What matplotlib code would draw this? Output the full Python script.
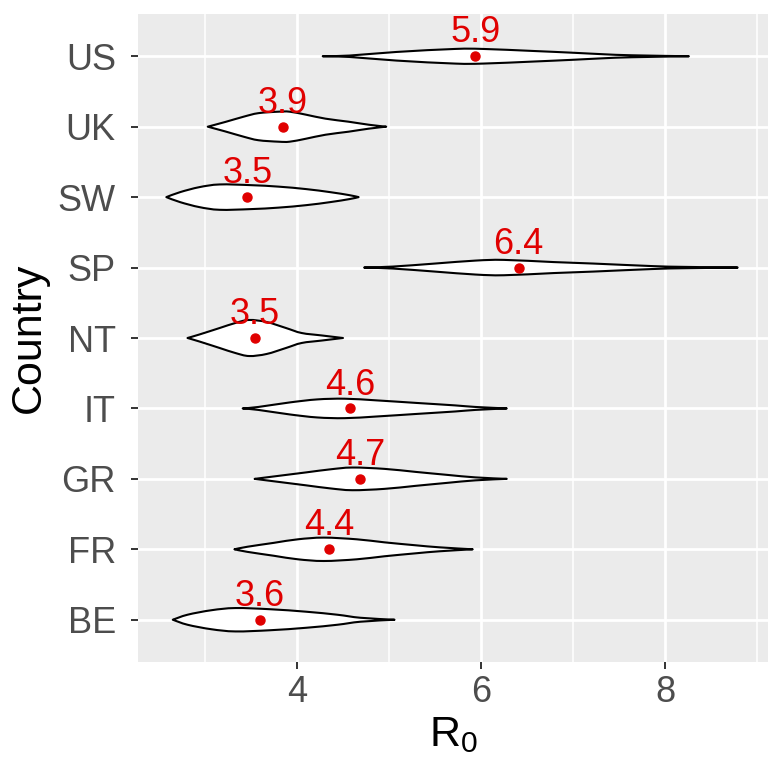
import matplotlib
matplotlib.use("Agg")
import matplotlib.pyplot as plt
import numpy as np
from matplotlib.path import Path
from matplotlib.patches import PathPatch

plt.rcParams["font.family"] = ["Liberation Sans", "DejaVu Sans"]
plt.rcParams["mathtext.default"] = "regular"

# countries, bottom to top
countries = ["BE", "FR", "GR", "IT", "NT", "SP", "SW", "UK", "US"]

# violin outlines: R0 positions and half widths (category units)
profile_x = {
    "US": [4.28, 4.57, 5.08, 5.72, 6.02, 6.57, 7.00, 7.34, 7.64, 8.26],
    "UK": [3.03, 3.22, 3.42, 3.58, 3.80, 3.92, 4.10, 4.31, 4.56, 4.78, 4.97],
    "SW": [2.58, 2.73, 2.94, 3.16, 3.50, 3.80, 4.10, 4.36, 4.57, 4.67],
    "SP": [4.73, 5.04, 5.50, 5.94, 6.25, 6.79, 7.22, 7.86, 8.20, 8.79],
    "NT": [2.81, 2.94, 3.16, 3.33, 3.48, 3.67, 3.88, 4.05, 4.27, 4.50],
    "IT": [3.41, 3.58, 3.92, 4.22, 4.52, 4.87, 5.30, 5.72, 5.94, 6.28],
    "GR": [3.54, 3.71, 4.10, 4.36, 4.60, 4.95, 5.29, 5.63, 5.94, 6.28],
    "FR": [3.32, 3.46, 3.75, 4.01, 4.29, 4.65, 4.95, 5.29, 5.55, 5.91],
    "BE": [2.65, 2.81, 3.07, 3.33, 3.71, 4.10, 4.44, 4.69, 5.06],
}
profile_w = {
    "US": [0, 0.010, 0.061, 0.104, 0.104, 0.075, 0.050, 0.028, 0.014, 0],
    "UK": [0, 0.067, 0.142, 0.192, 0.213, 0.213, 0.170, 0.114, 0.071, 0.028, 0],
    "SW": [0, 0.071, 0.142, 0.180, 0.170, 0.149, 0.114, 0.071, 0.028, 0],
    "SP": [0, 0.014, 0.057, 0.099, 0.109, 0.078, 0.057, 0.021, 0.010, 0],
    "NT": [0, 0.050, 0.142, 0.213, 0.256, 0.227, 0.142, 0.071, 0.036, 0],
    "IT": [0, 0.021, 0.085, 0.128, 0.138, 0.114, 0.078, 0.043, 0.021, 0],
    "GR": [0, 0.028, 0.092, 0.135, 0.161, 0.142, 0.099, 0.057, 0.021, 0],
    "FR": [0, 0.036, 0.092, 0.142, 0.166, 0.142, 0.099, 0.057, 0.028, 0],
    "BE": [0, 0.071, 0.135, 0.166, 0.149, 0.114, 0.071, 0.028, 0],
}

# point estimates and printed labels
medians = {"US": 5.94, "UK": 3.85, "SW": 3.46, "SP": 6.41, "NT": 3.54,
           "IT": 4.58, "GR": 4.69, "FR": 4.35, "BE": 3.60}
labels = {"US": "5.9", "UK": "3.9", "SW": "3.5", "SP": "6.4", "NT": "3.5",
          "IT": "4.6", "GR": "4.7", "FR": "4.4", "BE": "3.6"}

x_major = [4, 6, 8]
x_minor = [3, 5, 7, 9]

RED = "#E00000"


def smooth_path(px, py):
    # Catmull-Rom through the read points, drawn as cubic Bezier segments
    pts = np.column_stack([px, py])
    verts = [pts[0]]
    codes = [Path.MOVETO]
    n = len(pts)
    for k in range(n - 1):
        p0 = pts[max(k - 1, 0)]
        p1 = pts[k]
        p2 = pts[k + 1]
        p3 = pts[min(k + 2, n - 1)]
        verts += [p1 + (p2 - p0) / 6, p2 - (p3 - p1) / 6, p2]
        codes += [Path.CURVE4] * 3
    return verts, codes


fig = plt.figure(figsize=(7.81, 7.81), dpi=100)
ax = fig.add_axes([138 / 781, 1 - 662 / 781, 630 / 781, 648 / 781])
ax.set_facecolor("#EBEBEB")

for v in x_minor:
    ax.axvline(v, color="white", lw=1.1, zorder=0)
for v in x_major:
    ax.axvline(v, color="white", lw=2.0, zorder=0)
for i in range(len(countries)):
    ax.axhline(i + 1, color="white", lw=2.0, zorder=0)

for i, c in enumerate(countries):
    y0 = i + 1
    xs = np.array(profile_x[c])
    ws = np.array(profile_w[c])
    v_up, c_up = smooth_path(xs, y0 + ws)
    v_lo, c_lo = smooth_path(xs[::-1], (y0 - ws)[::-1])
    verts = v_up + v_lo[1:] + [v_up[0]]
    codes = c_up + c_lo[1:] + [Path.CLOSEPOLY]
    patch = PathPatch(Path(verts, codes), facecolor="white", edgecolor="black",
                      lw=1.5, joinstyle="round", zorder=3)
    ax.add_patch(patch)
    ax.plot(medians[c], y0, "o", color=RED, ms=6.5, zorder=4)
    ax.annotate(labels[c], (medians[c], y0), xytext=(0, 10),
                textcoords="offset points", ha="center", va="baseline",
                color=RED, fontsize=26, zorder=5)

ax.set_xlim(2.272, 9.12)
ax.set_ylim(0.4, 9.6)
ax.set_xticks(x_major)
ax.set_yticks(range(1, len(countries) + 1))
ax.set_yticklabels(countries)
ax.tick_params(axis="both", length=5, width=1.4, color="#333333",
               labelcolor="#4D4D4D", labelsize=26)
ax.tick_params(axis="y", pad=11)
ax.tick_params(axis="x", pad=4)
for s in ax.spines.values():
    s.set_visible(False)

ax.set_xlabel("R$_0$", fontsize=31, labelpad=4)
ax.set_ylabel("Country", fontsize=31, labelpad=6)

fig.savefig("out.png", dpi=100)
